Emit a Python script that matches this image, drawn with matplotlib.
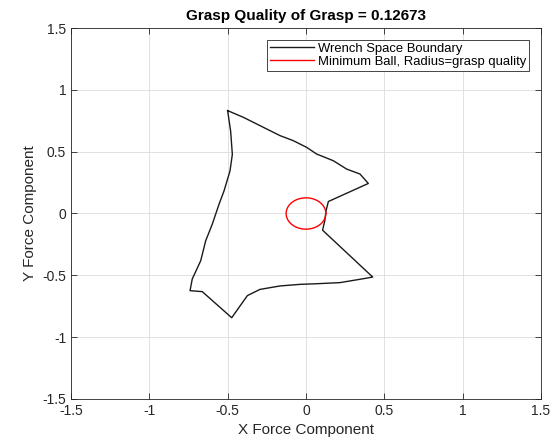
import matplotlib.pyplot as plt
import numpy as np

plt.rcParams['font.family'] = ['Liberation Sans', 'DejaVu Sans']

# wrench space boundary
bx = [-0.500, -0.400, -0.272, -0.166, -0.081, 0.004, 0.068, 0.174, 0.260, 0.345,
      0.398, 0.143, 0.128, 0.120, 0.106, 0.426, 0.345, 0.217, 0.068, -0.038,
      -0.166, -0.294, -0.374, -0.474, -0.662, -0.740, -0.726, -0.672, -0.640,
      -0.598, -0.555, -0.523, -0.485, -0.470, -0.481, -0.500]
by = [0.832, 0.778, 0.697, 0.630, 0.589, 0.535, 0.481, 0.427, 0.359, 0.319,
      0.243, 0.097, 0.022, -0.060, -0.135, -0.514, -0.532, -0.559, -0.568, -0.573,
      -0.586, -0.614, -0.664, -0.843, -0.632, -0.624, -0.530, -0.382, -0.220,
      -0.086, 0.075, 0.183, 0.344, 0.478, 0.667, 0.832]
quality = 0.12673

fig = plt.figure(figsize=(5.52, 4.44), dpi=100)
ax = fig.add_axes([0.1286, 0.1014, 0.8514, 0.8355])

ax.plot(bx, by, color='#1a1a1a', lw=1.0, label='Wrench Space Boundary')
t = np.linspace(0, 2 * np.pi, 200)
ax.plot(quality * np.cos(t), quality * np.sin(t), color='red', lw=1.0,
        label='Minimum Ball, Radius=grasp quality')

ax.set_xlim(-1.5, 1.5)
ax.set_ylim(-1.5, 1.5)
ticks = [-1.5, -1, -0.5, 0, 0.5, 1, 1.5]
labels = ['-1.5', '-1', '-0.5', '0', '0.5', '1', '1.5']
ax.set_xticks(ticks)
ax.set_xticklabels(labels)
ax.set_yticks(ticks)
ax.set_yticklabels(labels)
ax.tick_params(direction='in', top=True, right=True, labelsize=10,
               colors='#262626', length=4, width=0.6)
ax.grid(True, color='#dcdcdc', lw=0.6)
ax.set_axisbelow(True)
for s in ax.spines.values():
    s.set_color('#262626')
    s.set_linewidth(0.6)

ax.set_xlabel('X Force Component', fontsize=11, color='#262626')
ax.set_ylabel('Y Force Component', fontsize=11, color='#262626')
ax.set_title('Grasp Quality of Grasp = 0.12673', fontsize=11, fontweight='bold')

leg = ax.legend(loc='upper right', fontsize=9.4, fancybox=False, framealpha=1,
                edgecolor='#262626', borderpad=0.2, handlelength=3.4,
                handletextpad=0.3, labelspacing=0.1, borderaxespad=0.9)
leg.get_frame().set_linewidth(0.6)

fig.savefig('out.png', dpi=100)
